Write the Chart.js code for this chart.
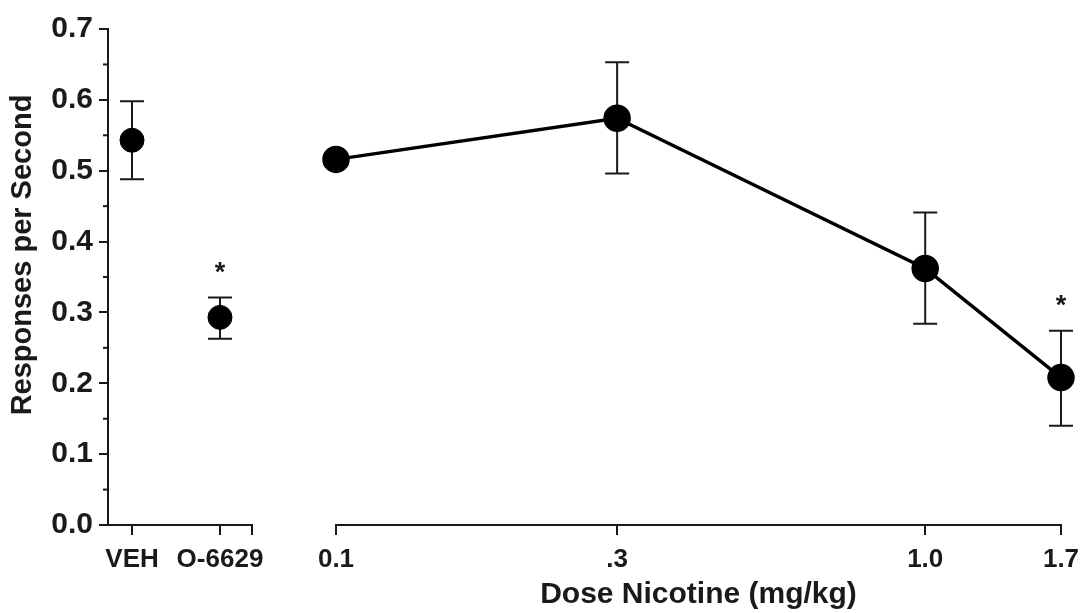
<!DOCTYPE html>
<html>
<head>
<meta charset="utf-8">
<script src="https://cdn.jsdelivr.net/npm/chart.js@4"></script>
<style>
  body { margin: 0; background: #fff; overflow: hidden; }
  #wrap { position: relative; width: 1083px; height: 613px; overflow: hidden; }
  #left-box { position: absolute; left: 0; top: 0; width: 300px; height: 613px; }
  #right-box { position: absolute; left: 300px; top: 0; width: 800px; height: 613px; }
</style>
</head>
<body>
<div id="wrap">
  <div id="left-box"><canvas id="left-chart"></canvas></div>
  <div id="right-box"><canvas id="right-chart"></canvas></div>
</div>
<script>
// === Data ===
const groupLabels = ["VEH", "O-6629"];
const groupMeans = [0.543, 0.293];
const groupLow = [0.488, 0.263];
const groupHigh = [0.598, 0.321];
const groupSig = [false, true];

const doses = [0.1, 0.3, 1.0, 1.7];
const doseLabels = ["0.1", ".3", "1.0", "1.7"];
const doseMeans = [0.516, 0.574, 0.362, 0.208];
const doseLow = [0.516, 0.496, 0.284, 0.140];
const doseHigh = [0.516, 0.653, 0.441, 0.274];
const doseSig = [false, false, false, true];

const yTicks = [0, 0.1, 0.2, 0.3, 0.4, 0.5, 0.6, 0.7];

const INK = "#1a1a1a";
const FONT = "'Liberation Sans', Arial, sans-serif";

// === Error bars + asterisks ===
function errorBarPlugin(xs, low, high, sig) {
    return {
        id: "errorBars",
        beforeDatasetsDraw(chart) {
            const { ctx, scales: { x, y } } = chart;
            ctx.save();
            ctx.strokeStyle = INK;
            ctx.lineWidth = 2;
            xs.forEach((xv, i) => {
                if (high[i] === low[i]) return;
                const px = x.getPixelForValue(xv);
                const top = y.getPixelForValue(high[i]);
                const bot = y.getPixelForValue(low[i]);
                ctx.beginPath();
                ctx.moveTo(px, top); ctx.lineTo(px, bot);
                ctx.moveTo(px - 12, top); ctx.lineTo(px + 12, top);
                ctx.moveTo(px - 12, bot); ctx.lineTo(px + 12, bot);
                ctx.stroke();
            });
            ctx.restore();
        },
        afterDatasetsDraw(chart) {
            const { ctx, scales: { x, y } } = chart;
            ctx.save();
            ctx.fillStyle = INK;
            ctx.font = "bold 27px " + FONT;
            ctx.textAlign = "center";
            ctx.textBaseline = "middle";
            xs.forEach((xv, i) => {
                if (!sig[i]) return;
                const px = x.getPixelForValue(xv);
                const top = y.getPixelForValue(high[i]);
                ctx.fillText("*", px, top - 24);
            });
            ctx.restore();
        },
    };
}

// minor y ticks and y title (left chart only)
const yDecor = {
    id: "yDecor",
    afterDraw(chart) {
        const { ctx, scales: { y } } = chart;
        ctx.save();
        ctx.strokeStyle = INK;
        ctx.lineWidth = 2;
        for (let i = 0; i < yTicks.length - 1; i++) {
            const py = y.getPixelForValue((yTicks[i] + yTicks[i + 1]) / 2);
            ctx.beginPath();
            ctx.moveTo(y.right - 5, py); ctx.lineTo(y.right, py);
            ctx.stroke();
        }
        ctx.translate(23, 255);
        ctx.rotate(-Math.PI / 2);
        ctx.fillStyle = INK;
        ctx.font = "bold 29px " + FONT;
        ctx.textAlign = "center";
        ctx.textBaseline = "middle";
        ctx.fillText("Responses per Second", 0, 0);
        ctx.restore();
    },
};

const axisGrid = { drawOnChartArea: false, color: INK, lineWidth: 2, tickLength: 10 };
const axisBorder = { color: INK, width: 2 };

function yScale(show) {
    const s = {
        display: show,
        min: 0, max: 0.7,
        afterBuildTicks: sc => { sc.ticks = yTicks.map(v => ({ value: v })); },
        grid: { ...axisGrid, tickLength: 9 },
        border: axisBorder,
        ticks: {
            color: INK, padding: 6,
            font: { family: FONT, size: 30, weight: "bold" },
            callback: v => v.toFixed(1),
        },
    };
    if (show) s.afterFit = sc => { sc.width = 108; };
    return s;
}

// === Left: VEH / O-6629 ===
new Chart(document.getElementById("left-chart"), {
    type: "scatter",
    data: {
        datasets: [{
            data: groupMeans.map((m, i) => ({ x: i, y: m })),
            backgroundColor: "#000",
            borderColor: "#000",
            pointRadius: 12,
            showLine: false,
            clip: false,
        }],
    },
    options: {
        responsive: true,
        maintainAspectRatio: false,
        animation: false,
        layout: { padding: { top: 29, right: 48, left: 0, bottom: 0 } },
        plugins: { legend: { display: false }, tooltip: { enabled: false } },
        scales: {
            x: {
                type: "linear",
                min: -0.273, max: 1.364,
                afterBuildTicks: s => {
                    s.ticks = [{ value: 0 }, { value: 1 }, { value: s.max }];
                },
                afterFit: s => { s.height = 88; },
                grid: axisGrid,
                border: axisBorder,
                ticks: {
                    color: INK, padding: 9, maxRotation: 0, autoSkip: false,
                    font: { family: FONT, size: 26, weight: "bold" },
                    callback: (v, i) => groupLabels[i] || "",
                },
            },
            y: yScale(true),
        },
    },
    plugins: [errorBarPlugin([0, 1], groupLow, groupHigh, groupSig), yDecor],
});

// === Right: nicotine dose ===
new Chart(document.getElementById("right-chart"), {
    type: "line",
    data: {
        datasets: [{
            data: doses.map((d, i) => ({ x: d, y: doseMeans[i] })),
            borderColor: "#000",
            backgroundColor: "#000",
            borderWidth: 3.5,
            pointRadius: 12,
            tension: 0,
            clip: false,
        }],
    },
    options: {
        responsive: true,
        maintainAspectRatio: false,
        animation: false,
        layout: { padding: { top: 29, right: 39, left: 36, bottom: 0 } },
        plugins: { legend: { display: false }, tooltip: { enabled: false } },
        scales: {
            x: {
                type: "logarithmic",
                min: doses[0], max: doses[doses.length - 1],
                afterBuildTicks: s => { s.ticks = doses.map(v => ({ value: v })); },
                afterFit: s => { s.height = 88; },
                grid: axisGrid,
                border: axisBorder,
                ticks: {
                    color: INK, padding: 9, maxRotation: 0, autoSkip: false,
                    font: { family: FONT, size: 26, weight: "bold" },
                    callback: (v, i) => doseLabels[i],
                },
                title: {
                    display: true,
                    text: "Dose Nicotine (mg/kg)",
                    color: INK,
                    padding: { top: 0, bottom: 0 },
                    font: { family: FONT, size: 30, weight: "bold" },
                },
            },
            y: yScale(false),
        },
    },
    plugins: [errorBarPlugin(doses, doseLow, doseHigh, doseSig)],
});
</script>
</body>
</html>
